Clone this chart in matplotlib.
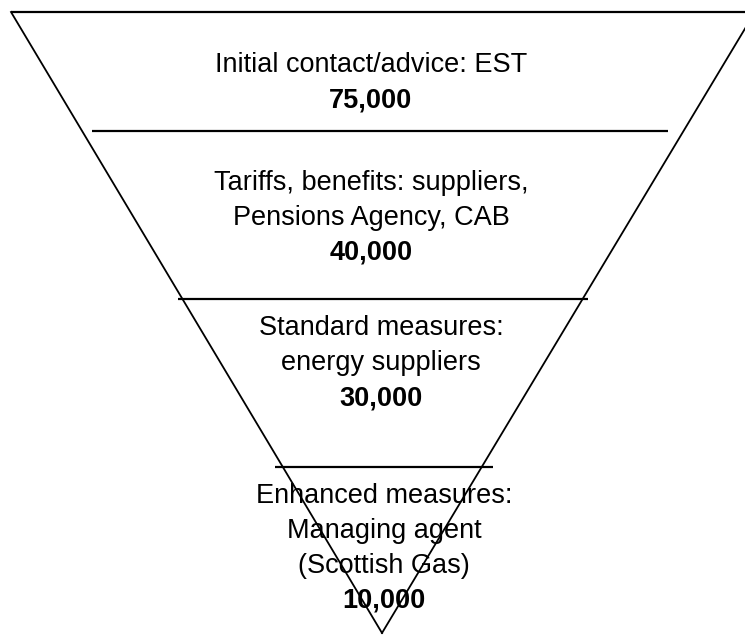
import matplotlib
matplotlib.use("Agg")
import matplotlib.pyplot as plt

# Funnel stages (top to bottom)
stage_labels = [
    ["Initial contact/advice: EST"],
    ["Tariffs, benefits: suppliers,", "Pensions Agency, CAB"],
    ["Standard measures:", "energy suppliers"],
    ["Enhanced measures:", "Managing agent", "(Scottish Gas)"],
]
stage_values = [75000, 40000, 30000, 10000]

# Layout (pixel-like coordinates)
W, H = 745, 635
apex = (382, 633)
top_left = (11, 12)
top_right = (755, 12)
dividers = [(131, 92, 668), (299, 178, 588), (467, 275, 493)]
block_first_y = [65, 183, 328, 496]
block_x = [371, 371, 381, 384]
line_step = 35

fig = plt.figure(figsize=(W / 100, H / 100), dpi=100)
ax = fig.add_axes([0, 0, 1, 1])
ax.set_xlim(0, W)
ax.set_ylim(H, 0)
ax.axis("off")

lw = 1.3
ax.plot([top_left[0], top_right[0]], [top_left[1], top_right[1]], color="black", lw=1.6, solid_capstyle="butt")
ax.plot([top_left[0], apex[0]], [top_left[1], apex[1]], color="black", lw=lw)
ax.plot([top_right[0], apex[0]], [top_right[1], apex[1]], color="black", lw=lw)
for y, x0, x1 in dividers:
    ax.plot([x0, x1], [y, y], color="black", lw=1.6, solid_capstyle="butt")

font = ["Liberation Sans", "DejaVu Sans"]
for labels, val, y0, xc in zip(stage_labels, stage_values, block_first_y, block_x):
    y = y0
    for t in labels:
        ax.text(xc, y, t, ha="center", va="center", fontsize=19.5, family=font)
        y += line_step
    ax.text(xc, y, f"{val:,}", ha="center", va="center", fontsize=19.5,
            fontweight="bold", family=font)

fig.savefig("out.png", dpi=100)
